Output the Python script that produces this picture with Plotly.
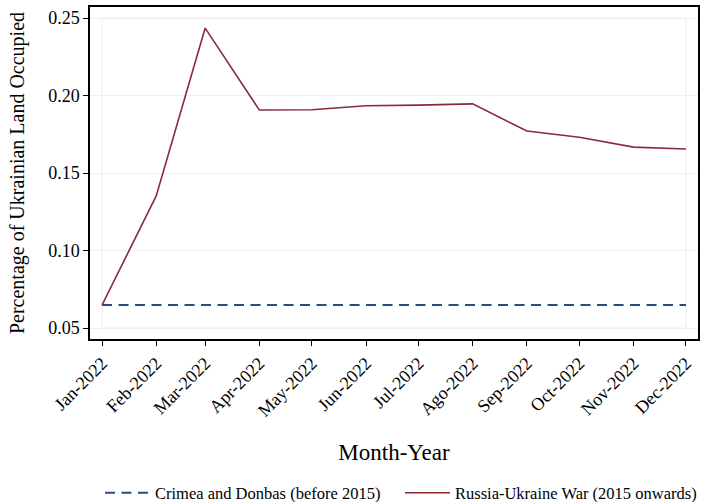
import plotly.graph_objects as go

months = ["2022-01-01", "2022-02-01", "2022-03-01", "2022-04-01", "2022-05-01", "2022-06-01",
          "2022-07-01", "2022-08-01", "2022-09-01", "2022-10-01", "2022-11-01", "2022-12-01"]
month_labels = ["Jan-2022", "Feb-2022", "Mar-2022", "Apr-2022", "May-2022", "Jun-2022",
                "Jul-2022", "Ago-2022", "Sep-2022", "Oct-2022", "Nov-2022", "Dec-2022"]
crimea_donbas = [0.0648] * 12
russia_ukraine_war = [0.0648, 0.1352, 0.2435, 0.1906, 0.1908, 0.1934,
                      0.1938, 0.1946, 0.1771, 0.1731, 0.1667, 0.1655]
y_ticks = [0.05, 0.10, 0.15, 0.20, 0.25]
y_tick_labels = ["0.05", "0.10", "0.15", "0.20", "0.25"]

FONT = "Liberation Serif"

fig = go.Figure()
fig.add_trace(go.Scatter(
    x=months, y=crimea_donbas, mode="lines",
    name="Crimea and Donbas (before 2015)",
    line=dict(color="#2b4c7e", width=2, dash="10px,6.5px"),
    legend="legend",
))
fig.add_trace(go.Scatter(
    x=months, y=russia_ukraine_war, mode="lines",
    name="Russia-Ukraine War (2015 onwards)",
    line=dict(color="#8b2a37", width=1.6),
    legend="legend2",
))

# light bounding rectangle of the data region
fig.add_shape(type="rect", xref="x", yref="y",
              x0=months[0], x1=months[-1], y0=y_ticks[0], y1=y_ticks[-1],
              line=dict(color="#efefef", width=1), layer="below")

legend_common = dict(orientation="h", y=-0.464, yanchor="middle", itemwidth=45,
                     font=dict(size=16.5, family=FONT), bgcolor="rgba(0,0,0,0)")

fig.update_layout(
    width=701, height=502,
    margin=dict(l=90, r=3, t=7, b=163, autoexpand=False),
    paper_bgcolor="white", plot_bgcolor="white",
    font=dict(family=FONT, color="black", size=17),
    showlegend=True,
    legend=dict(x=0.0164, xanchor="left", **legend_common),
    legend2=dict(x=0.5098, xanchor="left", **legend_common),
)
fig.update_xaxes(
    type="date",
    range=["2021-12-25 03:00", "2022-12-07 21:00"],
    tickmode="array", tickvals=months, ticktext=month_labels,
    tickangle=-45, ticks="outside", ticklen=5, tickcolor="black",
    showgrid=False, zeroline=False,
    showline=True, linecolor="black", linewidth=1.5, mirror=True,
    tickfont=dict(size=18, family=FONT),
    title=dict(text="Month-Year", font=dict(size=23, family=FONT), standoff=24),
)
fig.update_yaxes(
    range=[0.0429, 0.2571],
    tickmode="array", tickvals=y_ticks, ticktext=y_tick_labels,
    ticks="outside", ticklen=5, tickcolor="black",
    showgrid=True, gridcolor="#efefef", gridwidth=1, zeroline=False,
    showline=True, linecolor="black", linewidth=1.5, mirror=True,
    tickfont=dict(size=18, family=FONT),
    title=dict(text="Percentage of Ukrainian Land Occupied", font=dict(size=20, family=FONT), standoff=18),
)

fig.write_html("out.html")
